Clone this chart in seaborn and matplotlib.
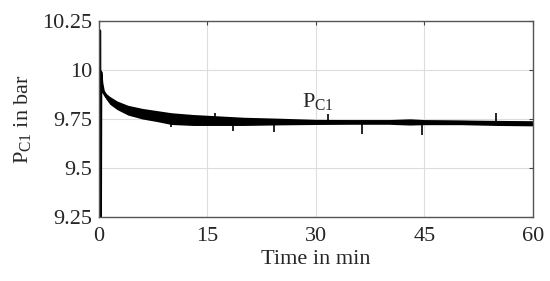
import matplotlib
matplotlib.use('Agg')
from matplotlib import pyplot as plt
import seaborn as sns
import pandas as pd

# 001 : data (time in min, pressure in bar)
time_min = [0.10, 0.15, 0.20, 0.25, 0.40, 0.60, 1.0, 1.5, 2.5, 4.0, 6.0, 8.0, 10.0, 13.0,
            16.0, 20.0, 25.0, 30.0, 35.0, 40.0, 43.0, 45.0, 50.0, 55.0, 60.0]
p_center = [10.20, 9.25, 9.25, 9.99, 9.93, 9.89, 9.865, 9.845, 9.82, 9.795, 9.777, 9.765, 9.752, 9.745,
            9.742, 9.738, 9.737, 9.735, 9.735, 9.735, 9.735, 9.734, 9.733, 9.73, 9.728]
p_noise = [0.0, 0.0, 0.0, 0.004, 0.008, 0.01, 0.015, 0.02, 0.022, 0.025, 0.027, 0.028, 0.03, 0.028,
           0.025, 0.021, 0.017, 0.013, 0.012, 0.012, 0.016, 0.013, 0.012, 0.013, 0.013]

# spikes sticking out of the noise band
spike_t = [10.0, 16.0, 18.5, 24.2, 31.7, 36.4, 44.7, 54.9]
spike_p = [9.71, 9.78, 9.69, 9.685, 9.775, 9.675, 9.668, 9.78]

xticks = [0, 15, 30, 45, 60]
yticks = [9.25, 9.5, 9.75, 10, 10.25]
ytick_labels = ['9.25', '9.5', '9.75', '10', '10.25']

df = pd.DataFrame({'t': time_min, 'p': p_center})
df['lo'] = df['p'] - pd.Series(p_noise)
df['hi'] = df['p'] + pd.Series(p_noise)

# 002 : style
sns.set_style('white')
plt.rcParams['font.family'] = ['Liberation Serif', 'DejaVu Serif']
plt.rcParams['mathtext.fontset'] = 'custom'
plt.rcParams['mathtext.rm'] = 'Liberation Serif'
plt.rcParams['font.size'] = 16

fig = plt.figure(figsize=(5.5, 2.81), dpi=100)
ax = fig.add_axes([0.18, 0.228, 0.789, 0.697])

ax.fill_between(df['t'][3:], df['lo'][3:], df['hi'][3:], color='black', linewidth=0)
sns.lineplot(data=df, x='t', y='p', ax=ax, color='black', linewidth=2.2,
             estimator=None, sort=False)
base = [df['p'][(df['t'] - t).abs().idxmin()] for t in spike_t]
ax.vlines(spike_t, base, spike_p, color='black', linewidth=1.2)

ax.text(28, 9.808, r'$\mathrm{P}_{\mathrm{C1}}$', fontsize=16)

ax.set_xlim(0, 60)
ax.set_ylim(9.25, 10.25)
ax.set_xticks(xticks)
ax.set_yticks(yticks)
ax.set_yticklabels(ytick_labels)
ax.set_xlabel('Time in min', labelpad=3)
ax.set_ylabel(r'$\mathrm{P}_{\mathrm{C1}}$ in bar', labelpad=6)
ax.grid(True, color='#dddddd', linewidth=0.8)
ax.tick_params(direction='in', length=3, top=True, right=True, color='#444444')
ax.tick_params(axis='x', pad=7)
ax.tick_params(axis='y', pad=5)
for s in ax.spines.values():
    s.set_color('#555555')
    s.set_linewidth(1.0)

fig.savefig('out.png', dpi=100)
